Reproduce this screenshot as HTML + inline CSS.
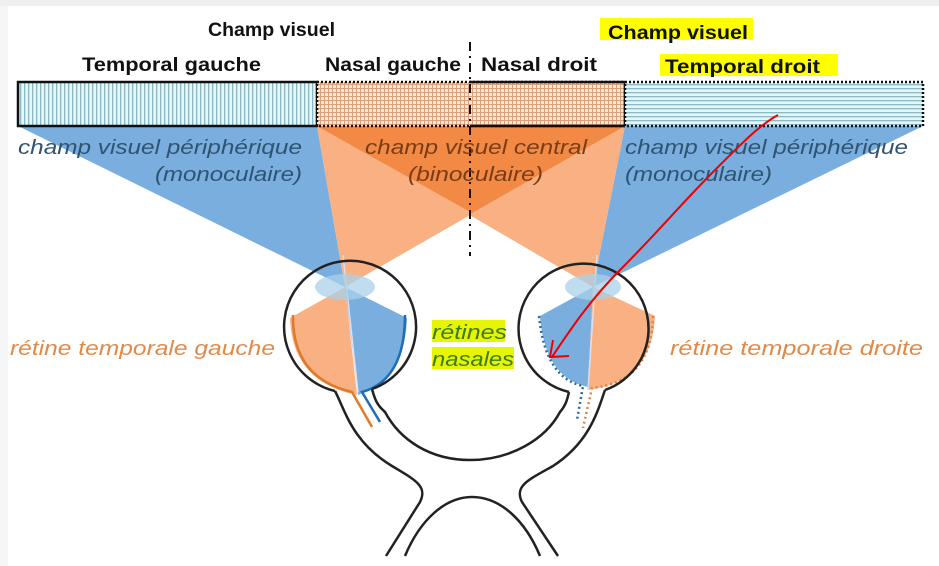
<!DOCTYPE html>
<html><head><meta charset="utf-8"><style>
html,body{margin:0;padding:0;background:#fff;}
svg{display:block;}
text{font-family:"Liberation Sans",sans-serif;}
</style></head><body>
<svg width="939" height="566" viewBox="0 0 939 566" xmlns="http://www.w3.org/2000/svg">
<defs>
<pattern id="vs" width="4" height="4" patternUnits="userSpaceOnUse"><rect width="4" height="4" fill="#e4f6f6"/><rect width="1.3" height="4" fill="#8fb9c2"/></pattern>
<pattern id="hs" width="4" height="4" patternUnits="userSpaceOnUse"><rect width="4" height="4" fill="#e4f6f6"/><rect width="4" height="1.3" fill="#8fb9c2"/></pattern>
<pattern id="gr" width="4" height="4" patternUnits="userSpaceOnUse"><rect width="4" height="4" fill="#fbe8d4"/><rect width="1" height="4" fill="#d8a07c"/><rect width="4" height="1" fill="#d8a07c"/></pattern>
</defs>
<rect x="0" y="0" width="939" height="6" fill="#efefef"/>
<rect x="0" y="6" width="8" height="560" fill="#f6f6f6"/>

<polygon points="18,126 317,126 345,287" fill="#79aedf"/>
<polygon points="625,126 923,126 593,287" fill="#79aedf"/>
<polygon points="317,126 625,126 345,287" fill="#f9b184"/>
<polygon points="317,126 625,126 593,287" fill="#f9b184"/>
<polygon points="317,126 625,126 472,213" fill="#f28a45"/>

<path d="M345 287 L290 318 Q 292 382 357 395 Z" fill="#f9b184"/>
<path d="M345 287 L407 318 Q 405 378 358 395 Z" fill="#79aedf"/>
<line x1="343" y1="255" x2="358" y2="392" stroke="#dde" stroke-width="1.5"/>
<ellipse cx="345" cy="287" rx="30" ry="13" fill="#a9d2e8" opacity="0.75"/>
<path d="M593 287 L540 316 Q 545 378 588 387 Z" fill="#79aedf"/>
<path d="M593 287 L655 316 Q 652 382 588 390 Z" fill="#f9b184"/>
<line x1="597" y1="255" x2="588" y2="390" stroke="#dde" stroke-width="1.5"/>
<ellipse cx="593" cy="287" rx="28" ry="13" fill="#a9d2e8" opacity="0.75"/>

<path d="M293 315 Q 292 378 352 392 L372 427" fill="none" stroke="#e07a2a" stroke-width="2.5"/>
<path d="M405 315 Q 405 380 362 392 L380 422" fill="none" stroke="#1f6db5" stroke-width="2.5"/>
<path d="M539 316 Q 545 378 583 386 L577 420" fill="none" stroke="#2d6c9c" stroke-width="2.5" stroke-dasharray="2 3"/>
<path d="M653 316 Q 652 382 592 388 L583 428" fill="none" stroke="#d9884a" stroke-width="2.5" stroke-dasharray="2 3"/>

<g fill="none" stroke="#222" stroke-width="2.5">
<path d="M335 391 A 66 66 0 1 1 372 389"/>
<path d="M335 391 C 345 410, 352 442, 392 466 C 415 480, 428 486, 420 502 L 386 556"/>
<path d="M372 389 C 375 400, 377 405, 385 412 C 400 440, 430 460, 470 460 C 510 460, 545 440, 560 412 C 566 405, 567 400, 569 392"/>
<path d="M569 392 A 65 65 0 1 1 605 390"/>
<path d="M605 390 C 598 410, 590 442, 553 466 C 528 480, 514 486, 522 502 L 558 556"/>
<path d="M405 556 C 420 520, 445 497, 472 497 C 500 497, 525 520, 540 556"/>
</g>

<rect x="18" y="82" width="299" height="44" fill="url(#vs)" stroke="#111" stroke-width="2.5"/>
<rect x="317" y="82" width="308" height="44" fill="url(#gr)" stroke="#111" stroke-width="2.5" stroke-dasharray="2 2"/>
<line x1="625" y1="82" x2="625" y2="126" stroke="#111" stroke-width="2.5"/>
<line x1="470" y1="82" x2="625" y2="82" stroke="#111" stroke-width="2.5"/>
<line x1="470" y1="126" x2="625" y2="126" stroke="#111" stroke-width="2.5"/>
<rect x="625" y="82" width="298" height="44" fill="url(#hs)" stroke="#111" stroke-width="2.5" stroke-dasharray="2 2"/>

<line x1="470" y1="42" x2="470" y2="256" stroke="#111" stroke-width="2" stroke-dasharray="9 5 2 5"/>

<rect x="600" y="18" width="153" height="22" fill="#ffff00"/>
<rect x="660" y="54" width="178" height="22" fill="#ffff00"/>
<rect x="432" y="320" width="73" height="22" fill="#e6f500"/>
<rect x="432" y="347" width="82" height="22" fill="#e6f500"/>

<g font-weight="bold" font-size="19" fill="#111" lengthAdjust="spacingAndGlyphs">
<text x="208" y="36" textLength="127" lengthAdjust="spacingAndGlyphs">Champ visuel</text>
<text x="82" y="71" textLength="179" lengthAdjust="spacingAndGlyphs">Temporal gauche</text>
<text x="325" y="71" textLength="136" lengthAdjust="spacingAndGlyphs">Nasal gauche</text>
<text x="481" y="71" textLength="116" lengthAdjust="spacingAndGlyphs">Nasal droit</text>
<text x="608" y="39" textLength="140" lengthAdjust="spacingAndGlyphs">Champ visuel</text>
<text x="665" y="73" textLength="155" lengthAdjust="spacingAndGlyphs">Temporal droit</text>
</g>

<g font-style="italic" font-size="20">
<text x="18" y="154" fill="#2f5472" textLength="284" lengthAdjust="spacingAndGlyphs">champ visuel périphérique</text>
<text x="155" y="181" fill="#2f5472" textLength="147" lengthAdjust="spacingAndGlyphs">(monoculaire)</text>
<text x="365" y="154" fill="#7a3c14" textLength="222" lengthAdjust="spacingAndGlyphs">champ visuel central</text>
<text x="408" y="181" fill="#7a3c14" textLength="135" lengthAdjust="spacingAndGlyphs">(binoculaire)</text>
<text x="625" y="154" fill="#2f5472" textLength="283" lengthAdjust="spacingAndGlyphs">champ visuel périphérique</text>
<text x="625" y="181" fill="#2f5472" textLength="147" lengthAdjust="spacingAndGlyphs">(monoculaire)</text>
<text x="10" y="355" fill="#e08a4a" textLength="265" lengthAdjust="spacingAndGlyphs">rétine temporale gauche</text>
<text x="670" y="355" fill="#e08a4a" textLength="253" lengthAdjust="spacingAndGlyphs">rétine temporale droite</text>
<text x="432" y="339" fill="#3f7a18" textLength="75" lengthAdjust="spacingAndGlyphs">rétines</text>
<text x="432" y="366" fill="#3f7a18" textLength="82" lengthAdjust="spacingAndGlyphs">nasales</text>
</g>

<path d="M778 115 C 760 125, 745 140, 715 170 C 680 205, 660 230, 620 270 C 590 300, 570 330, 552 357" fill="none" stroke="#e00" stroke-width="2"/>
<path d="M553 340 L550 357 L569 356" fill="none" stroke="#e00" stroke-width="2"/>
</svg>
</body></html>
